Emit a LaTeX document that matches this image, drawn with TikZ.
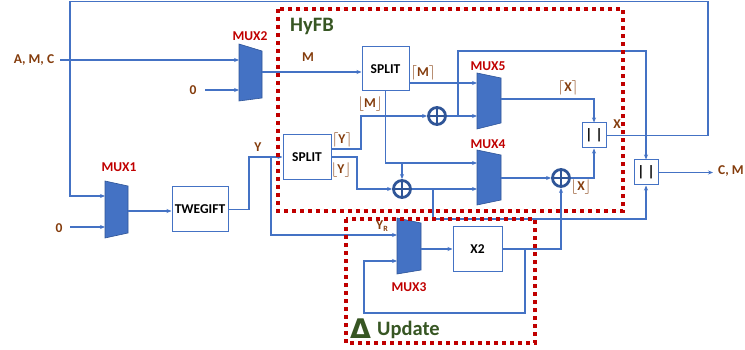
\documentclass[tikz,border=0pt]{standalone}
\usepackage{fontspec}
\setmainfont{Carlito}
\newfontfamily\dejavu{DejaVu Sans}
\usetikzlibrary{arrows.meta}
\definecolor{ln}{HTML}{4472C4}
\definecolor{muxe}{HTML}{2F5597}
\definecolor{brn}{HTML}{843C0C}
\definecolor{redl}{HTML}{C00000}
\definecolor{grn}{HTML}{375623}
\definecolor{xorc}{HTML}{2F5597}
\tikzset{
 wire/.style={draw=ln,line width=1.1pt},
 arr/.style={wire,-{Stealth[length=5pt,width=4pt]}},
 blk/.style={draw=ln,line width=1pt,fill=white,inner sep=0pt,font=\bfseries\fontsize{13.5}{13.5}\selectfont},
 parb/.style={draw=ln,line width=1pt,fill=white,inner sep=0pt,minimum width=24pt,minimum height=25pt,font=\bfseries\fontsize{15}{15}\selectfont},
 lbl/.style={text=brn,font=\bfseries\fontsize{13.5}{13.5}\selectfont,inner sep=0pt},
 muxl/.style={text=redl,font=\bfseries\fontsize{13.5}{13.5}\selectfont,inner sep=0pt},
 muxs/.style={fill=ln,draw=muxe,line width=0.6pt},
 xorn/.style={circle,draw=xorc,line width=2.8pt,minimum size=17pt,inner sep=0pt},
 dotbox/.style={draw=redl,line width=3.5pt,dash pattern=on 4pt off 4pt},
 ttl/.style={text=grn,font=\bfseries\fontsize{20.5}{20.5}\selectfont,inner sep=0pt},
}
\begin{document}
\begin{tikzpicture}[x=1pt,y=-1pt]
\useasboundingbox (0,0) rectangle (745,350);

% multiplexers
\draw[muxs] (239,44) -- (262,51) -- (262,98) -- (239,101) -- cycle;
\draw[muxs] (105,181) -- (128,186) -- (128,233) -- (105,238) -- cycle;
\draw[muxs] (397,218) -- (421,223) -- (421,270) -- (397,274) -- cycle;
\draw[muxs] (477,73) -- (501,78) -- (501,123) -- (477,129) -- cycle;
\draw[muxs] (477,150) -- (501,155) -- (501,200) -- (477,205) -- cycle;
\coordinate (m1a) at (105,196); \coordinate (m1b) at (105,227); \coordinate (m1o) at (128,211);
\coordinate (m2a) at (239,60);  \coordinate (m2b) at (239,90);  \coordinate (m2o) at (262,72);
\coordinate (m3a) at (397,235); \coordinate (m3b) at (397,261); \coordinate (m3o) at (421,249);
\coordinate (m5a) at (477,83);  \coordinate (m5b) at (477,116); \coordinate (m5o) at (501,99);
\coordinate (m4a) at (477,163); \coordinate (m4b) at (477,189); \coordinate (m4o) at (501,178);

% blocks
\node[blk,minimum width=47pt,minimum height=44pt] (spA) at (385.5,69) {SPLIT};
\node[blk,minimum width=48pt,minimum height=45pt] (spB) at (307,157) {SPLIT};
\node[blk,minimum width=56pt,minimum height=45pt] (tw) at (200,209.5) {TWEGIFT};
\node[blk,minimum width=49pt,minimum height=44pt] (x2) at (477.5,249) {X2};
\node[parb] (pU) at (594,135.5) {|\hspace{3pt}|};
\node[parb] (pL) at (646,172.5) {|\hspace{3pt}|};
\node[xorn] (xu) at (437,116) {};
\node[xorn] (xl) at (402,189) {};
\node[xorn] (xr) at (561,178) {};
\foreach \n in {xu,xl,xr} \draw[draw=xorc,line width=2.8pt] (\n.north) -- (\n.south) (\n.west) -- (\n.east);

% free ends / junctions
\coordinate (amcO) at (60,60);
\coordinate (z2O) at (205,90);
\coordinate (z1O) at (70,227);
\coordinate (sbo1) at (331,149);
\coordinate (sbo2) at (331,157);
\coordinate (j1) at (458,116);
\coordinate (j2) at (433,189);
\coordinate (j3) at (271,157);
\coordinate (j4) at (525,249);
\coordinate (cmO) at (713,172.5);

% wires
\draw[arr] (amcO) -- (m2a);
\draw[arr] (z2O) -- (m2b);
\draw[arr] (m2o) -- (m2o -| spA.west);
\draw[arr] (spA.east |- m5a) -- (m5a);
\draw[arr] (spA.south) -- (spA.south |- m4a) -- (m4a);
\draw[arr] (xl.north |- m4a) -- (xl.north);
\draw[arr] (sbo1) -- (361,149) -- (361,116) -- (xu.west);
\draw[arr] (sbo2) -- (357,157) -- (357,189) -- (xl.west);
\draw[arr] (xu.east) -- (m5b);
\draw[arr] (j1) -- (458,51) -- (pL.north |- 458,51) -- (pL.north);
\draw[arr] (m5o) -- (pU.north |- m5o) -- (pU.north);
\draw[arr] (xl.east) -- (m4b);
\draw[arr] (j2) -- (433,219) -- (pL.south |- 433,219) -- (pL.south);
\draw[arr] (m4o) -- (xr.west);
\draw[arr] (xr.east) -| (pU.south);
\draw[arr] (pU.east) -| (708,1.5) -| (70,196) -- (m1a);
\draw[arr] (z1O) -- (m1b);
\draw[arr] (m1o) -- (m1o -| tw.west);
\draw[arr] (tw.east) -| (249,157) -- (spB.west);
\draw[arr] (j3) |- (m3a);
\draw[arr] (m3o) -- (x2.west);
\draw[arr] (x2.east) -| (xr.south);
\draw[arr] (j4) |- (364,313) |- (m3b);
\draw[arr] (pL.east) -- (cmO);

% labels
\node[lbl] at (34,60) {A, M, C};
\node[lbl] at (193,90) {0};
\node[lbl] at (59,228) {0};
\node[lbl] at (308,57) {M};
\node[lbl] at (258,147) {Y};
\node[lbl] at (423,73) {$\lceil$M$\rceil$};
\node[lbl] at (370,104) {$\lfloor$M$\rfloor$};
\node[lbl] at (342,140) {$\lceil$Y$\rceil$};
\node[lbl] at (341,170) {$\lfloor$Y$\rfloor$};
\node[lbl] at (568,88) {$\lceil$X$\rceil$};
\node[lbl] at (581,187) {$\lfloor$X$\rfloor$};
\node[lbl] at (617,124) {X};
\node[lbl,anchor=west] at (718,171) {C, M};
\node[muxl] at (250,36) {MUX2};
\node[muxl] at (119,167) {MUX1};
\node[muxl] at (488,66) {MUX5};
\node[muxl] at (488,144) {MUX4};
\node[muxl] at (409,287) {MUX3};

% dotted regions
\draw[dotbox] (278,9) rectangle (623,211);
\draw[dotbox] (346,219) rectangle (535,343);
\node[lbl] at (382,226) {Y\raisebox{-2.5pt}{\fontsize{8}{8}\selectfont R}};
\node[ttl,anchor=base west] at (290,32) {HyFB};
\node[ttl,anchor=base west] at (350,338) {{\dejavu\bfseries\fontsize{27}{27}\selectfont Δ}};
\node[ttl,anchor=base west] at (377,335) {Update};
\end{tikzpicture}
\end{document}
